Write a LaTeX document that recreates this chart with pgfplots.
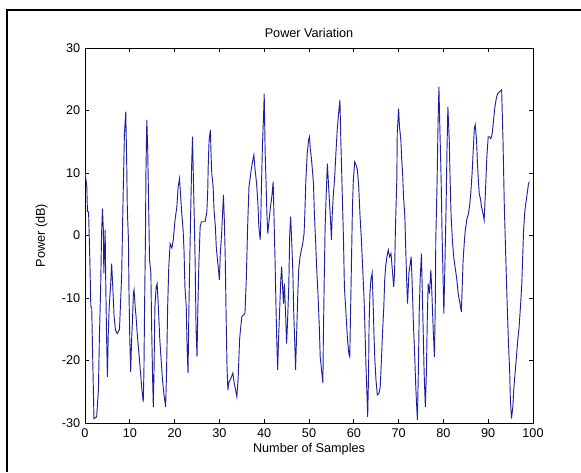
\documentclass[border=0pt]{standalone}
\usepackage{pgfplots}
\pgfplotsset{compat=1.18}
\usepackage{fontspec}
\setmainfont{Liberation Sans}
\definecolor{mlblue}{RGB}{30,30,160}
\begin{document}
\begin{tikzpicture}[x=0.75pt,y=0.75pt]
\useasboundingbox (0,0) rectangle (581,472);
% figure frame (only top and left edges visible)
\draw[line width=2.2pt] (6,462) -- (581,462);
\draw[line width=1.6pt] (7,463) -- (7,0);
\begin{axis}[
    at={(63.75pt,36.75pt)}, anchor=south west,
    scale only axis,
    width=336pt, height=281.25pt,
    xmin=0, xmax=100, ymin=-30, ymax=30,
    xtick={0,10,...,100}, ytick={-30,-20,...,30},
    tick align=inside,
    xtick pos=both, ytick pos=both,
    major tick length=3pt,
    axis line style={line width=0.6pt},
    every tick/.style={black, line width=0.5pt},
    font=\fontsize{9.5}{11}\selectfont,
    /pgf/number format/assume math mode=true,
    tick label style={font=\fontsize{9.5}{11}\selectfont},
    xticklabel style={yshift=-1pt},
    title={Power Variation},
    title style={yshift=-1.5pt},
    xlabel={Number of Samples},
    ylabel={Power (dB)},
    xlabel style={yshift=3pt},
    ylabel style={yshift=4pt},
]
\addplot[mlblue, line width=0.7pt] coordinates {
(0,10.2) (0.4,7.8) (0.55,3.8) (0.8,3.8) (1.1,-4.5) (1.3,-11.4) (1.5,-11.6) (1.7,-18.9) (1.9,-25.8) (2.0,-29.3)
(2.6,-29) (3.0,-24.7) (3.2,-16.7) (3.5,-8.2) (3.7,0.3) (3.9,4.3) (4.1,0.9) (4.2,-6) (4.5,0.9) (4.6,-6)
(4.8,-15.6) (5.0,-22.6) (5.2,-15.6) (5.4,-11.4) (5.7,-8.2) (5.95,-4.5) (6.2,-8.2) (6.5,-13) (6.8,-15.1) (7.2,-15.7)
(7.7,-15) (7.9,-11.4) (8.2,-6) (8.4,2.2) (8.6,9.4) (8.8,16.3) (9.1,19.8) (9.3,12) (9.45,4.1) (9.7,-0.7)
(9.8,-8.2) (10.0,-16.7) (10.2,-21.8) (10.4,-16.7) (10.6,-13.5) (10.8,-9.3) (10.95,-8.7) (11.2,-11.4) (11.4,-13) (11.6,-15.1)
(11.9,-17.8) (12.1,-19.4) (12.4,-22) (12.7,-24.7) (13.0,-26.6) (13.15,-22) (13.3,-11.4) (13.5,0.3) (13.6,9.9) (13.8,18.5)
(14.0,13.7) (14.2,5.1) (14.4,-3.9) (14.7,-6) (14.9,-15.7) (15.1,-23.1) (15.25,-27.4) (15.4,-22) (15.6,-11.4) (15.9,-8.2)
(16.1,-7.7) (16.3,-10.3) (16.5,-13.5) (16.7,-16.7) (17.0,-19.9) (17.3,-23.1) (17.6,-25.3) (18.0,-27.4) (18.2,-22) (18.45,-11.4)
(18.7,-5) (19.0,-1.3) (19.4,-2) (19.7,-0.7) (20.1,2.5) (20.5,4.6) (20.8,7.8) (21.1,9.1)
(21.4,5.7) (21.6,3.5) (21.9,0.9) (22.1,-2.3) (22.3,-8.2) (22.6,-11.4) (22.8,-18.3) (23.0,-22) (23.2,-11.4) (23.4,-3.4)
(23.6,4.1) (23.8,11) (24.0,15.8) (24.2,8.9) (24.4,2.5) (24.6,-5) (24.8,-15.1) (25.0,-19.4) (25.2,-11.4) (25.4,-5)
(25.7,1.4) (26.0,2.2) (26.8,2.2) (27.2,3.8) (27.4,7.3) (27.5,11) (27.7,15.3) (28.0,16.9) (28.1,13.7) (28.3,9.9)
(28.6,7.8) (28.8,4.1) (29.1,1.4) (29.3,-1.8) (29.5,-3.4) (29.8,-5.5) (30.0,-7.1) (30.2,-2.9) (30.5,0.3) (30.7,3.5)
(30.9,6.5) (31.1,2.5) (31.3,-3.4) (31.5,-13) (31.7,-21) (31.9,-24.7) (32.1,-23.6) (32.4,-23.1) (32.7,-22.6) (33.0,-22)
(33.3,-23.6) (33.7,-25) (33.9,-25.8) (34.2,-22.6) (34.5,-16.7) (34.7,-15.1) (35.0,-13) (35.4,-12.7) (35.7,-12.5) (36.0,-7.1)
(36.3,1.4) (36.6,7.8) (37.1,10.5) (37.4,11.8) (37.7,12.9) (37.9,11) (38.3,8.3) (38.6,5.1) (38.8,1.4) (39.1,-0.7)
(39.2,1.4) (39.4,8.3) (39.6,14.2) (39.9,20.1) (40.0,22.7) (40.2,13.7) (40.4,8.9) (40.6,3.5) (40.8,0.3) (41.1,2.5)
(41.4,4.6) (41.7,6.2) (42.0,8.6)
(42.2,2.5) (42.4,-3.4) (42.6,-10.3) (42.8,-16.7) (43.0,-21.5) (43.2,-16.7) (43.5,-10.9) (43.7,-7.1) (43.9,-5) (44.1,-8.2)
(44.3,-10.9) (44.5,-7.7) (44.8,-13) (45.0,-17.3) (45.2,-14) (45.5,-7.7) (45.7,0.3) (45.9,3) (46.1,-0.2) (46.4,-6)
(46.6,-12.5) (46.8,-16.7) (47.0,-21.5) (47.2,-16.7) (47.5,-9.3) (47.7,-5.5) (48.0,-3.4) (48.3,-2.3) (48.6,-1.3) (48.9,0.3)
(49.1,4.1) (49.3,8.9) (49.6,13.1) (49.9,15.3) (50.1,15.8) (50.3,13.7) (50.5,12.6) (50.7,11) (51.0,8.3) (51.2,3.5)
(51.5,-1.3) (51.7,-5) (52.0,-9.3) (52.3,-14.6) (52.5,-19.4) (52.8,-21.5) (53.1,-23.6) (53.2,-16.7) (53.4,-7.1) (53.6,1.4)
(53.9,7.8) (54.1,11.5) (54.3,8.9) (54.5,6.2) (54.8,2.5) (55.0,-0.7) (55.2,3.5) (55.4,6.2) (55.7,8.9) (56.0,13.1)
(56.3,16.9) (56.6,19.5) (56.9,21.7) (57.1,15.3) (57.4,7.3) (57.7,-0.7) (57.9,-8.2) (58.3,-13) (58.6,-16.7) (58.9,-18.9)
(59.1,-19.4) (59.3,-11.4) (59.5,-3.4) (59.7,4.6) (59.9,8.9) (60.2,11.8) (60.5,11.3) (60.8,10.5) (61.1,7.8) (61.4,3)
(61.7,-0.7) (62.0,-5.5) (62.3,-10.3) (62.5,-15.1) (62.7,-20.5) (62.9,-24.7) (63.1,-29)
(63.3,-22) (63.4,-14.6) (63.6,-9.3) (63.8,-7.1) (64.1,-6) (64.3,-10.3) (64.5,-15.7) (64.7,-19.9) (64.95,-23.1) (65.25,-25.5)
(65.6,-25.3) (65.9,-24.2) (66.2,-19.4) (66.4,-15.7) (66.7,-11.4) (66.9,-7.1) (67.1,-5) (67.4,-3.4) (67.7,-2.3) (68.0,-3.4)
(68.3,-2.9) (68.6,-5.5) (68.9,-8.2) (69.1,-6) (69.3,1.4) (69.6,8.9) (69.7,16.4) (70.0,20.3) (70.2,17.4) (70.5,15.3)
(70.7,12.1) (70.9,9.9) (71.1,6.2) (71.4,3) (71.6,-2.3) (71.8,-7.1) (72.0,-10.9) (72.3,-6) (72.5,-5) (72.8,-3.4)
(73.0,-7.1) (73.3,-14) (73.6,-19.4) (73.8,-23.6) (74.0,-26.8) (74.2,-29.5) (74.4,-22) (74.6,-12.5) (74.8,-7.1) (75.1,-2.9)
(75.3,-9.3) (75.5,-15.7) (75.7,-22) (75.97,-27.4) (76.2,-22) (76.4,-13.5) (76.6,-7.7) (76.9,-9.3) (77.2,-5.5) (77.4,-8.7)
(77.7,-14.6) (78.0,-19.4) (78.2,-10.3) (78.3,-0.7) (78.6,8.9) (78.8,17.9) (79.0,23.8) (79.2,17.4) (79.5,8.9) (79.7,0.3)
(79.9,-6) (80.1,-12.5) (80.3,-6) (80.6,4.6) (80.8,13.7) (81.0,20.6) (81.3,15.3) (81.5,8.9) (81.7,3.5) (82.0,-0.7)
(82.3,-3.4) (82.6,-5)
(83.0,-7.1) (83.3,-9.3) (83.7,-10.9) (84.0,-12.2) (84.2,-8.2) (84.4,-3.9) (84.7,-0.7) (84.9,0.9) (85.2,2.5) (85.6,3.5)
(85.9,5.1) (86.1,6.7) (86.4,9.9) (86.7,14.2) (86.9,17.1) (87.1,17.7) (87.4,15.3) (87.6,11.5) (87.8,8.9) (88.0,6.7)
(88.3,5.7) (88.5,4.6) (88.9,3.3) (89.1,2.5) (89.4,7.3) (89.7,12.6) (90.0,15.8) (90.3,15.8) (90.6,15.5) (90.9,16.3)
(91.2,18.5) (91.5,20.6) (91.8,21.9) (92.1,22.7) (92.5,23.0) (93.0,23.3) (93.3,15.3) (93.6,4.6) (93.9,-2.9) (94.2,-10.3)
(94.5,-16.7) (94.8,-22) (94.95,-26.3) (95.2,-29.3) (95.5,-27.4) (95.7,-24.7) (96.0,-22) (96.3,-19.4) (96.6,-16.7) (96.9,-14.6)
(97.2,-11.4) (97.5,-7.7) (97.7,-3.4) (97.9,0.9) (98.2,4.1) (98.6,6.2) (99.0,8.3) (99.2,8.6)
};
\end{axis}
\end{tikzpicture}
\end{document}
